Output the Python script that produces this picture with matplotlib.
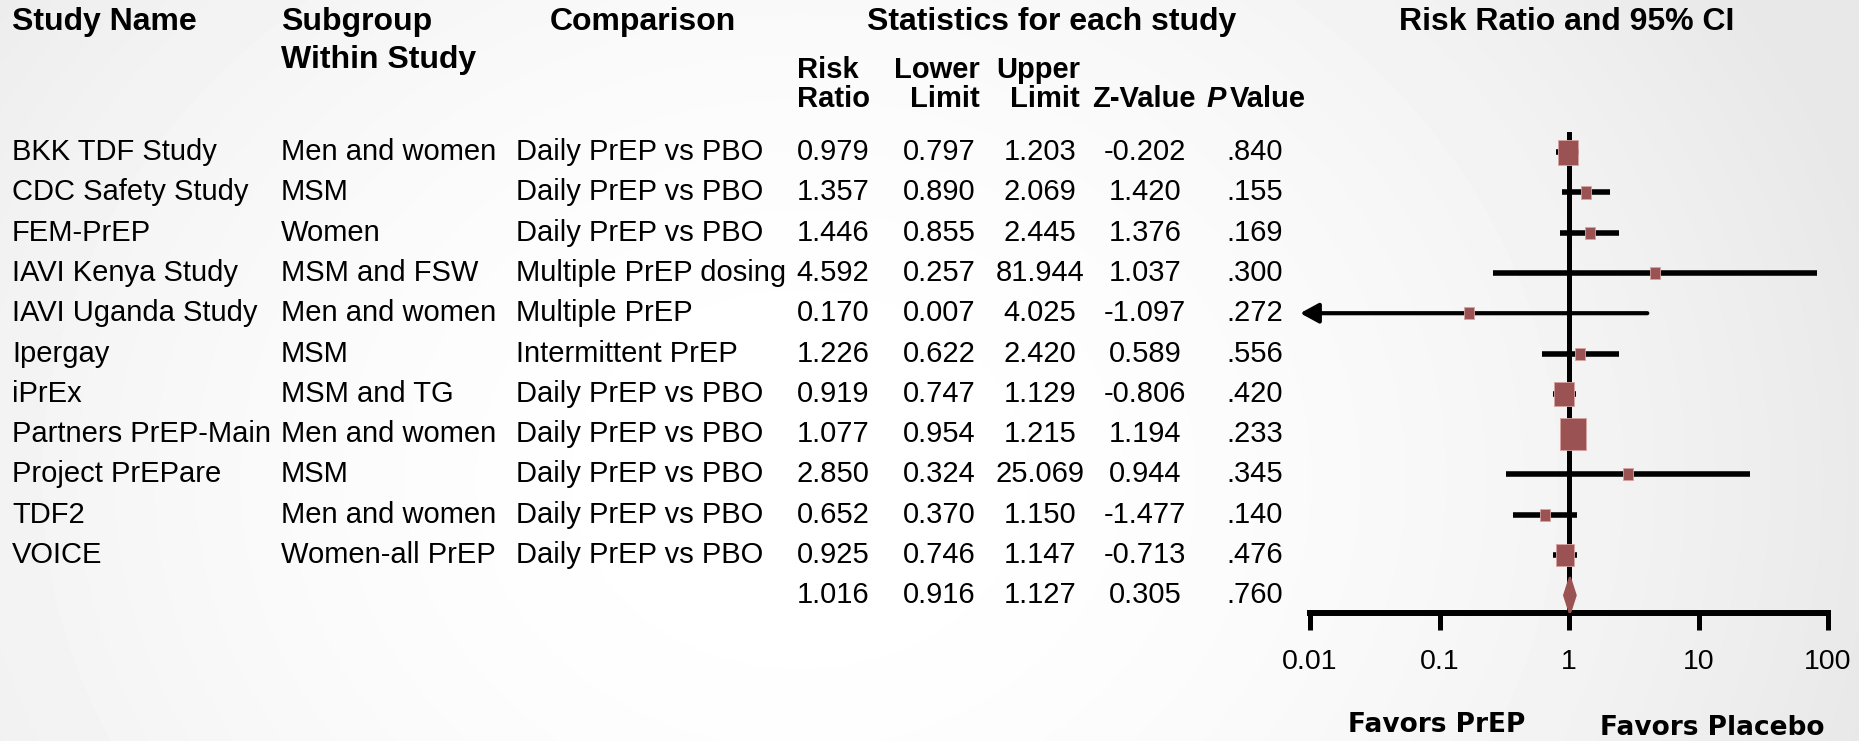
import numpy as np
import matplotlib
matplotlib.use("Agg")
import matplotlib.pyplot as plt
from matplotlib.transforms import blended_transform_factory

plt.rcParams['font.family'] = ['Liberation Sans', 'DejaVu Sans']

###
### Data
###
studies = ["BKK TDF Study", "CDC Safety Study", "FEM-PrEP", "IAVI Kenya Study",
           "IAVI Uganda Study", "Ipergay", "iPrEx", "Partners PrEP-Main",
           "Project PrEPare", "TDF2", "VOICE"]
subgroups = ["Men and women", "MSM", "Women", "MSM and FSW", "Men and women",
             "MSM", "MSM and TG", "Men and women", "MSM", "Men and women",
             "Women-all PrEP"]
comparisons = ["Daily PrEP vs PBO", "Daily PrEP vs PBO", "Daily PrEP vs PBO",
               "Multiple PrEP dosing", "Multiple PrEP", "Intermittent PrEP",
               "Daily PrEP vs PBO", "Daily PrEP vs PBO", "Daily PrEP vs PBO",
               "Daily PrEP vs PBO", "Daily PrEP vs PBO"]
risk_ratio = [0.979, 1.357, 1.446, 4.592, 0.170, 1.226, 0.919, 1.077, 2.850, 0.652, 0.925]
lower      = [0.797, 0.890, 0.855, 0.257, 0.007, 0.622, 0.747, 0.954, 0.324, 0.370, 0.746]
upper      = [1.203, 2.069, 2.445, 81.944, 4.025, 2.420, 1.129, 1.215, 25.069, 1.150, 1.147]
z_value    = [-0.202, 1.420, 1.376, 1.037, -1.097, 0.589, -0.806, 1.194, 0.944, -1.477, -0.713]
p_value    = [0.840, 0.155, 0.169, 0.300, 0.272, 0.556, 0.420, 0.233, 0.345, 0.140, 0.476]
box_height = [25, 13, 12, 12, 12, 12, 24, 32, 12, 12, 22]   # study weight boxes, px

pooled_rr, pooled_lower, pooled_upper = 1.016, 0.916, 1.127
pooled_z, pooled_p = 0.305, 0.760

xticks = [0.01, 0.1, 1, 10, 100]
xtick_labels = ["0.01", "0.1", "1", "10", "100"]

###
### Layout (pixels)
###
W, H = 1859, 741
X0, X1 = 1310, 1828          # forest axis 0.01 .. 100
YTOP, YBOT = 132, 613        # reference line top, axis line
ROW0, ROWH = 152, 40.3       # first row centre, row spacing
BOX = '#9b5252'

fig = plt.figure(figsize=(W/100, H/100), dpi=100)

###
### Background with light radial shading
###
ax0 = fig.add_axes([0, 0, 1, 1])
ax0.set_xlim(0, W)
ax0.set_ylim(H, 0)
ax0.axis('off')
gx, gy = np.meshgrid(np.linspace(0, W, 400), np.linspace(0, H, 160))
d = np.hypot(gx - 800, (gy - 480)*1.2) / 1100
shade = 1 - 0.09*np.clip(d, 0, 1)**2
ax0.imshow(shade, extent=(0, W, H, 0), cmap='gray', vmin=0, vmax=1,
           aspect='auto', interpolation='bilinear', zorder=-10)

###
### Forest axes
###
ax = fig.add_axes([X0/W, 1 - YBOT/H, (X1 - X0)/W, (YBOT - YTOP)/H])
ax.patch.set_alpha(0)
ax.set_xscale('log')
ax.set_xlim(xticks[0], xticks[-1])
ax.set_ylim((YBOT - ROW0)/ROWH, (YTOP - ROW0)/ROWH)
for s in ['top', 'left', 'right']:
    ax.spines[s].set_visible(False)
ax.spines['bottom'].set_linewidth(4.3)
ax.spines['bottom'].set_capstyle('projecting')
ax.set_yticks([])
ax.set_xticks(xticks)
ax.set_xticklabels(xtick_labels)
ax.minorticks_off()
ax.tick_params(axis='x', length=12, width=3.6, pad=14, labelsize=20.5)

ax.axvline(1, color='black', lw=3.6, zorder=2)

xmin = ax.get_xlim()[0]
rect = [(-0.41, -0.5), (0.41, -0.5), (0.41, 0.5), (-0.41, 0.5), (-0.41, -0.5)]
for i in range(len(studies)):
    if lower[i] < xmin:
        ax.annotate('', xy=(xmin*0.84, i), xytext=(upper[i], i),
                    arrowprops=dict(arrowstyle='-|>,head_length=0.55,head_width=0.3',
                                    mutation_scale=20, lw=3, color='black',
                                    shrinkA=0, shrinkB=0),
                    annotation_clip=False, zorder=3)
    else:
        ax.plot([lower[i], upper[i]], [i, i], color='black', lw=4,
                solid_capstyle='butt', zorder=3)
    ax.plot(risk_ratio[i], i, marker=rect, markersize=box_height[i]*0.72,
            markerfacecolor=BOX, markeredgecolor='#d9a3a3', markeredgewidth=0.6,
            linestyle='none', zorder=4)

n = len(studies)
ax.fill([pooled_lower, pooled_rr, pooled_upper, pooled_rr],
        [n, n - 0.45, n, n + 0.45], fc=BOX, ec=BOX, lw=1.5, zorder=4)

###
### Table text
###
tr = blended_transform_factory(ax0.transData, ax.transData)
fs = 21
for i in range(n):
    ax0.text(12, i, studies[i], transform=tr, fontsize=fs, va='center')
    ax0.text(281, i, subgroups[i], transform=tr, fontsize=fs, va='center')
    ax0.text(516, i, comparisons[i], transform=tr, fontsize=fs, va='center')

num_x = [833, 939, 1040, 1145, 1255]
rows = list(zip(risk_ratio, lower, upper, z_value, p_value))
rows.append((pooled_rr, pooled_lower, pooled_upper, pooled_z, pooled_p))
for i, vals in enumerate(rows):
    cells = [f"{v:.3f}" for v in vals[:4]] + [f"{vals[4]:.3f}"[1:]]
    for x, c in zip(num_x, cells):
        ax0.text(x, i, c, transform=tr, fontsize=fs, va='center', ha='center')

###
### Headers
###
hfs = 23
ax0.text(12, 22, "Study Name", fontsize=hfs, weight='bold', va='center')
ax0.text(281, 22, "Subgroup", fontsize=hfs, weight='bold', va='center')
ax0.text(281, 60, "Within Study", fontsize=hfs, weight='bold', va='center')
ax0.text(643, 22, "Comparison", fontsize=hfs, weight='bold', va='center', ha='center')
ax0.text(1052, 22, "Statistics for each study", fontsize=hfs, weight='bold',
         va='center', ha='center')
ax0.text(1567, 22, "Risk Ratio and 95% CI", fontsize=hfs, weight='bold',
         va='center', ha='center')

sfs = 21
l1, l2 = 70, 99
ax0.text(797, l1, "Risk", fontsize=sfs, weight='bold', va='center')
ax0.text(797, l2, "Ratio", fontsize=sfs, weight='bold', va='center')
ax0.text(980, l1, "Lower", fontsize=sfs, weight='bold', va='center', ha='right')
ax0.text(980, l2, "Limit", fontsize=sfs, weight='bold', va='center', ha='right')
ax0.text(1080, l1, "Upper", fontsize=sfs, weight='bold', va='center', ha='right')
ax0.text(1080, l2, "Limit", fontsize=sfs, weight='bold', va='center', ha='right')
ax0.text(1144, l2, "Z-Value", fontsize=sfs, weight='bold', va='center', ha='center')
ax0.text(1206, l2, "P", fontsize=sfs, weight='bold', style='italic', va='center')
ax0.text(1230, l2, "Value", fontsize=sfs, weight='bold', va='center')

ax0.text(1437, 725, "Favors PrEP", fontsize=19, weight='bold', va='center',
         ha='center', family='DejaVu Sans')
ax0.text(1712, 728, "Favors Placebo", fontsize=19, weight='bold', va='center',
         ha='center', family='DejaVu Sans')

plt.savefig("out.png", dpi=100)
